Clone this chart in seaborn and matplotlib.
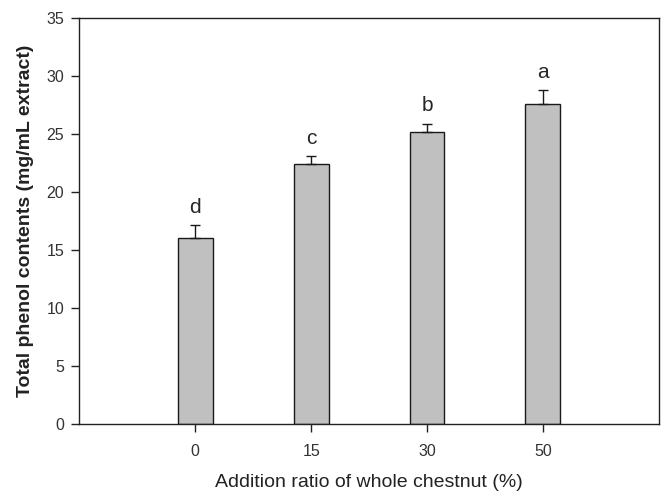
import numpy as np
import pandas as pd
import seaborn as sns
import matplotlib.pyplot as plt

# values
ratios = ['0', '15', '30', '50']
phenol = [16.03, 22.39, 25.17, 27.56]
phenol_sd = [1.12, 0.72, 0.72, 1.25]
letters = ['d', 'c', 'b', 'a']

df = pd.DataFrame({'ratio': ratios, 'phenol': phenol, 'sd': phenol_sd})

sns.set_style('ticks')
plt.rcParams['font.family'] = ['Liberation Sans', 'DejaVu Sans']

fig, ax = plt.subplots(figsize=(6.62, 4.92), dpi=100)
fig.subplots_adjust(left=0.12, right=0.995, top=0.963, bottom=0.138)

sns.barplot(data=df, x='ratio', y='phenol', order=ratios, color='#c0c0c0',
            width=0.30, edgecolor='#1a1a1a', linewidth=1.0, saturation=1,
            errorbar=None, ax=ax)

# upper error bars only
xpos = np.arange(len(ratios))
ax.errorbar(xpos, df['phenol'], yerr=[np.zeros(len(ratios)), df['sd']],
            fmt='none', ecolor='#1a1a1a', elinewidth=1.0, capsize=3.6,
            capthick=1.0)

# significance letters
for x, v, s, lab in zip(xpos, df['phenol'], df['sd'], letters):
    ax.text(x, v + s + 1.55, lab, ha='center', va='center', fontsize=15)

ax.set_xlim(-1, 4)
ax.set_ylim(0, 35)
ax.set_yticks(range(0, 36, 5))

for sp in ax.spines.values():
    sp.set_visible(True)
    sp.set_color('#222222')
    sp.set_linewidth(1.0)

ax.tick_params(axis='both', direction='out', length=6, width=1.0,
               color='#222222', labelcolor='#333333', labelsize=11.5)
ax.tick_params(axis='y', pad=5)
ax.tick_params(axis='x', pad=8)

ax.set_xlabel('Addition ratio of whole chestnut (%)', fontsize=14,
              color='#222222', labelpad=11)
ax.set_ylabel('Total phenol contents (mg/mL extract)', fontsize=14,
              fontweight='bold', color='#222222', labelpad=9)

fig.savefig('out.png', dpi=100)
